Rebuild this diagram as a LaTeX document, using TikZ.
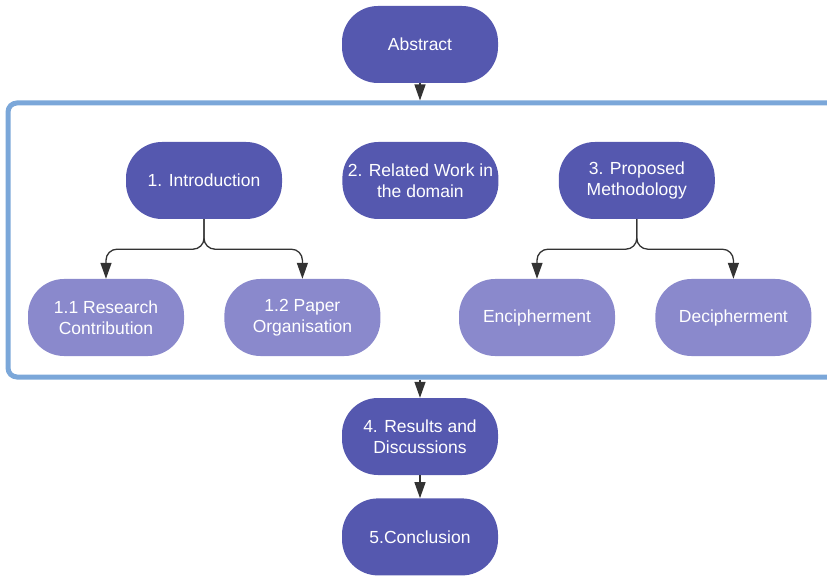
\documentclass[tikz,border=0pt]{standalone}
\usepackage{fontspec}
\setmainfont{Liberation Sans}
\usetikzlibrary{arrows.meta,positioning,calc}
\definecolor{darkbox}{RGB}{85,88,175}
\definecolor{lightbox}{RGB}{138,137,204}
\definecolor{framecol}{RGB}{123,167,217}
\definecolor{arrowcol}{RGB}{51,51,51}
\tikzstyle{mainbox} = [rectangle, rounded corners=36pt, fill=darkbox, text=white, minimum width=156pt, minimum height=77pt, align=center, font=\fontsize{17.5}{21}\selectfont]
\tikzstyle{subbox} = [mainbox, fill=lightbox]
\tikzstyle{Arrow} = [-{Triangle[width=11pt,length=16pt]}, line width=1.3pt, draw=arrowcol, rounded corners=11pt]

\begin{document}
\begin{tikzpicture}[x=1pt,y=-1pt]
            \clip (0,0) rectangle (827,577);
            %%%%% Top %%%%%
            \node (A) [mainbox] at (420,44.5) {Abstract};
            %%%%% Frame %%%%%
            \draw [framecol, line width=5pt, rounded corners=9pt] (8,103) rectangle (870,377);
            \coordinate (Ftop) at (420,100.5);
            \coordinate (Fbot) at (420,379.5);
            \draw [Arrow] (A) -- (Ftop);
            %%%%% First row %%%%%
            \node (I) [mainbox] at (204,180.5) {1. Introduction};
            \node (R) [mainbox, right=60pt of I] {2. Related Work in\\the domain};
            \node (P) [mainbox, right=60pt of R] {3. Proposed\\Methodology};
            %%%%% Second row %%%%%
            \node (C) [subbox] at (106,317.5) {1.1 Research\\Contribution};
            \node (O) [subbox, right=40pt of C] {1.2 Paper\\Organisation};
            \node (E) [subbox] at (537,317.5) {Encipherment};
            \node (D) [subbox, right=40pt of E] {Decipherment};
            %%%%% Branches %%%%%
            \draw [Arrow] (I.south) -- ++(0,30) -| (C.north);
            \draw [Arrow] (I.south) -- ++(0,30) -| (O.north);
            \draw [Arrow] (P.south) -- ++(0,30) -| (E.north);
            \draw [Arrow] (P.south) -- ++(0,30) -| (D.north);
            %%%%% Below the frame %%%%%
            \node (S) [mainbox] at (420,436.5) {4. Results and\\Discussions};
            \node (K) [mainbox, below=23pt of S] {5.Conclusion};
            \draw [Arrow] (Fbot) -- (S);
            \draw [Arrow] (S) -- (K);
\end{tikzpicture}
\end{document}
